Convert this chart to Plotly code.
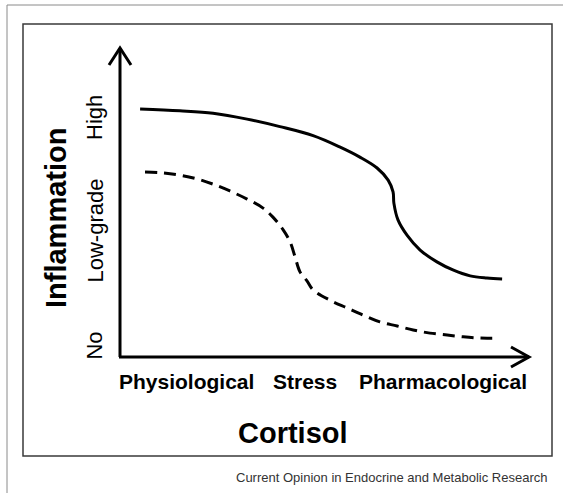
import plotly.graph_objects as go

# ---- data (conceptual units: cortisol 0-100, inflammation 0-100) ----
solid_x = [4.9, 14.6, 22.7, 31.0, 39.0, 47.1, 53.7, 58.5, 62.7, 65.4, 66.6, 66.8,
           67.8, 70.0, 73.2, 77.3, 81.2, 85.4, 89.5, 93.2]
solid_y = [80.1, 79.5, 78.7, 76.8, 74.4, 71.5, 67.8, 64.6, 61.1, 57.2, 53.4, 49.8,
           44.4, 39.5, 34.7, 30.9, 28.3, 26.4, 25.7, 25.4]

dashed_x = [6.1, 10.5, 14.6, 18.8, 22.7, 26.8, 31.0, 34.9, 37.3, 39.8, 41.5, 42.7,
            43.9, 45.6, 47.1, 51.2, 55.4, 59.3, 63.4, 67.6, 71.5, 75.6, 79.8, 83.7,
            87.8, 92.0]
dashed_y = [59.8, 59.5, 58.8, 57.6, 55.9, 53.7, 51.1, 48.2, 45.3, 41.2, 37.3, 32.5,
            27.7, 24.8, 21.9, 18.6, 16.1, 13.8, 11.6, 10.3, 9.0, 8.0, 7.4, 6.8,
            6.4, 6.4]

x_categories = ["Physiological", "Stress", "Pharmacological"]
x_category_pos = [16.3, 45.0, 78.8]
y_levels = ["No", "Low-grade", "High"]
y_level_pos = [4.0, 41.0, 77.5]

x_title = "Cortisol"
y_title = "Inflammation"
caption = "Current Opinion in Endocrine and Metabolic Research"

# ---- layout helpers ----
W, H = 563, 493
def px(X):
    return X / W
def py(Y):
    return 1 - Y / H

FONT = "Liberation Sans, Arial, sans-serif"

fig = go.Figure()
fig.add_trace(go.Scatter(x=solid_x, y=solid_y, mode="lines",
                         line=dict(color="black", width=3, shape="spline", smoothing=1.0),
                         hoverinfo="skip"))
fig.add_trace(go.Scatter(x=dashed_x, y=dashed_y, mode="lines",
                         line=dict(color="black", width=3, shape="spline", smoothing=1.0,
                                   dash="12px,7px"),
                         hoverinfo="skip"))

shapes = []
# outer and inner frames
shapes.append(dict(type="rect", xref="paper", yref="paper",
                   x0=px(7), x1=px(580), y0=py(510), y1=py(5),
                   line=dict(color="#8a8a8a", width=1)))
shapes.append(dict(type="rect", xref="paper", yref="paper",
                   x0=px(23), x1=px(552), y0=py(456), y1=py(24),
                   line=dict(color="#3a3a3a", width=1.5)))
# axes with open chevron arrowheads
shapes.append(dict(type="path", xref="paper", yref="paper",
                   path=f"M {px(120)},{py(357)} L {px(120)},{py(48)}",
                   line=dict(color="black", width=3)))
shapes.append(dict(type="path", xref="paper", yref="paper",
                   path=f"M {px(109)},{py(65)} L {px(120)},{py(48)} L {px(131)},{py(65)}",
                   line=dict(color="black", width=3)))
shapes.append(dict(type="path", xref="paper", yref="paper",
                   path=f"M {px(119)},{py(357)} L {px(529)},{py(357)}",
                   line=dict(color="black", width=3)))
shapes.append(dict(type="path", xref="paper", yref="paper",
                   path=f"M {px(511)},{py(347)} L {px(529)},{py(357)} L {px(511)},{py(367)}",
                   line=dict(color="black", width=3)))

annotations = []
for lab, xv in zip(x_categories, x_category_pos):
    annotations.append(dict(x=xv, y=py(381), xref="x", yref="paper", text=lab,
                            showarrow=False, xanchor="center", yanchor="middle",
                            font=dict(family=FONT, size=21, color="black", weight="bold")))
for lab, yv in zip(y_levels, y_level_pos):
    annotations.append(dict(x=px(95), y=yv, xref="paper", yref="y", text=lab,
                            showarrow=False, xanchor="center", yanchor="middle",
                            textangle=-90,
                            font=dict(family=FONT, size=22, color="black")))
annotations.append(dict(x=px(293), y=py(433), xref="paper", yref="paper", text=x_title,
                        showarrow=False, xanchor="center", yanchor="middle",
                        font=dict(family=FONT, size=29, color="black", weight="bold")))
annotations.append(dict(x=px(56), y=py(218), xref="paper", yref="paper", text=y_title,
                        showarrow=False, xanchor="center", yanchor="middle", textangle=-90,
                        font=dict(family=FONT, size=29, color="black", weight="bold")))
annotations.append(dict(x=px(549), y=py(477), xref="paper", yref="paper", text=caption,
                        showarrow=False, xanchor="right", yanchor="middle",
                        font=dict(family=FONT, size=13, color="#333333")))

fig.update_layout(
    width=W, height=H,
    margin=dict(l=0, r=0, t=0, b=0),
    paper_bgcolor="white", plot_bgcolor="white",
    showlegend=False,
    xaxis=dict(domain=[120 / W, 530 / W], range=[0, 100], visible=False, fixedrange=True),
    yaxis=dict(domain=[1 - 358 / H, 1 - 47 / H], range=[0, 100], visible=False, fixedrange=True),
    shapes=shapes,
    annotations=annotations,
)

fig.write_html(
    "out.html",
    config={"displayModeBar": False},
    post_script="document.body.style.margin='0';document.body.style.overflow='hidden';",
)
